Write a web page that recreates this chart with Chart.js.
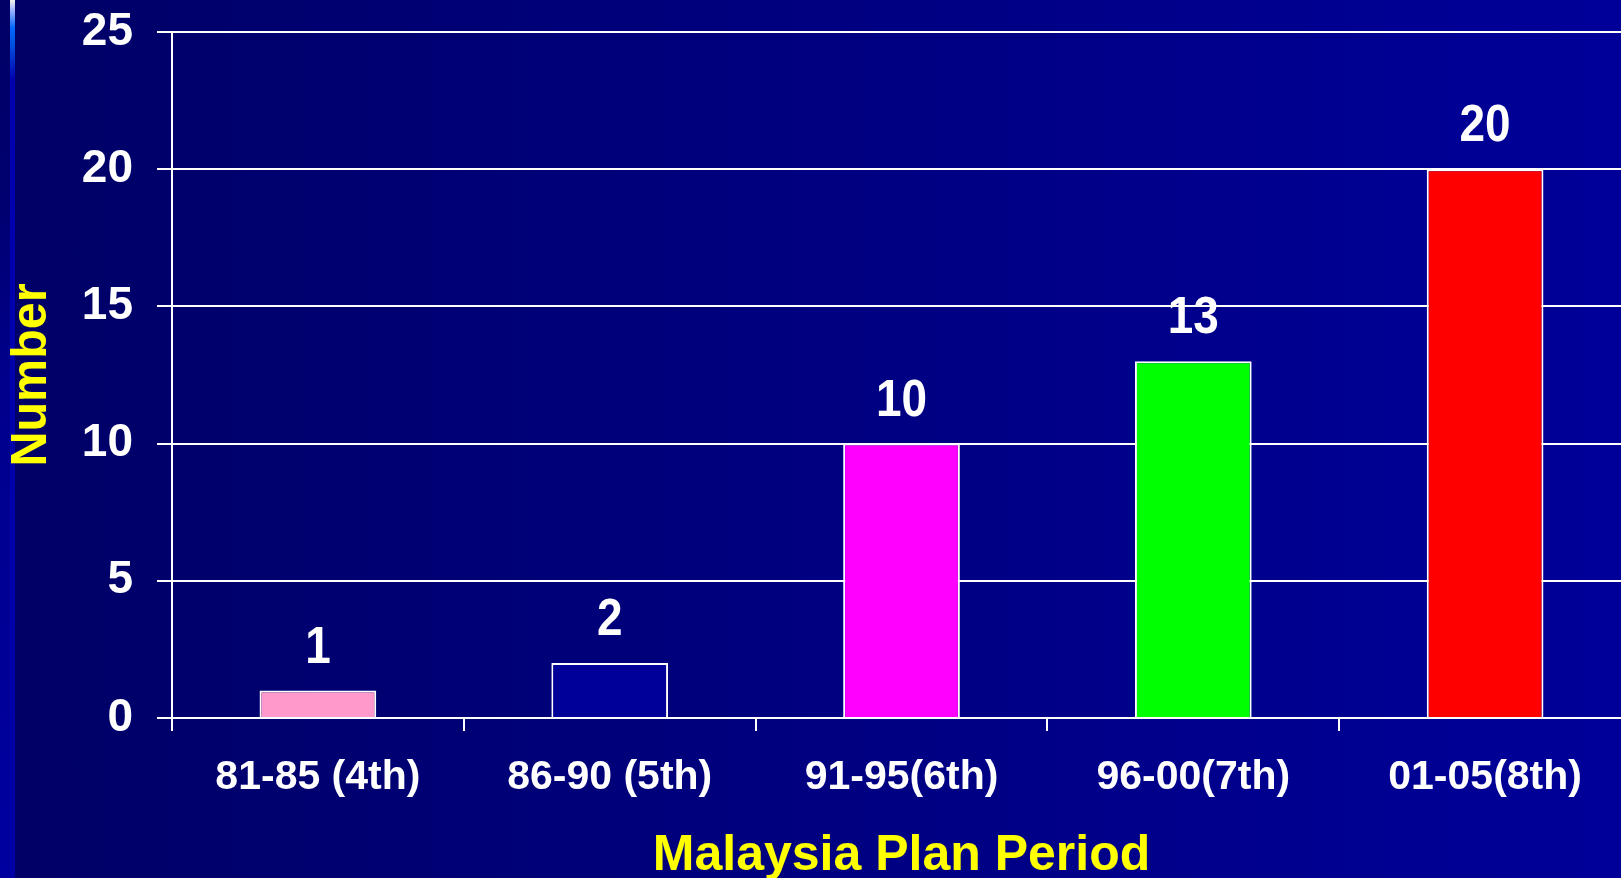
<!DOCTYPE html>
<html>
<head>
<meta charset="utf-8">
<title>Malaysia Plan Period</title>
<script src="https://cdn.jsdelivr.net/npm/chart.js@4.4.1/dist/chart.umd.min.js"></script>
<style>
  html, body { margin: 0; padding: 0; }
  body {
    width: 1621px; height: 878px; overflow: hidden; position: relative;
    background: linear-gradient(to right, #000066 0%, #000080 50%, #000099 100%);
  }
  #edge {
    position: absolute; left: 0; top: 0; width: 10px; height: 878px;
    background: linear-gradient(to bottom, #000066 0px, #000070 200px, #00008c 380px, #0000a0 100%);
  }
  #stripe {
    position: absolute; left: 10px; top: 0; width: 5px; height: 878px;
    background: linear-gradient(to bottom, #f4f4e8 0px, #a0b4ff 10px, #0066ff 28px, #0050e0 45px, #0000b0 80px, #0000a4 100%);
  }
  #chart { position: absolute; left: 0; top: 0; }
</style>
</head>
<body>
<div id="edge"></div>
<div id="stripe"></div>
<canvas id="chart" width="1640" height="878"></canvas>
<script>
// Projects per Malaysia Plan period
const categories = ['81-85 (4th)', '86-90 (5th)', '91-95(6th)', '96-00(7th)', '01-05(8th)'];
const counts = [1, 2, 10, 13, 20];
const barColors = ['#ff99cc', '#000099', '#ff00ff', '#00ff00', '#ff0000'];
const yMin = 0;
const yMax = 25;
const yStep = 5;

const FONT = '"Liberation Sans", Arial, Helvetica, sans-serif';

// value above each bar
const valueLabels = {
  id: 'valueLabels',
  afterDatasetsDraw(chart) {
    const ctx = chart.ctx;
    const meta = chart.getDatasetMeta(0);
    ctx.save();
    ctx.fillStyle = '#ffffff';
    ctx.font = 'bold 51px ' + FONT;
    ctx.textAlign = 'center';
    ctx.textBaseline = 'alphabetic';
    meta.data.forEach((bar, i) => {
      ctx.save();
      ctx.translate(bar.x, bar.y - 28);
      ctx.scale(0.9, 1);
      ctx.fillText(String(counts[i]), 0, 0);
      ctx.restore();
    });
    ctx.restore();
  }
};

// axis titles in yellow
const axisTitles = {
  id: 'axisTitles',
  afterDraw(chart) {
    const ctx = chart.ctx;
    const area = chart.chartArea;
    ctx.save();
    ctx.fillStyle = '#ffff00';
    ctx.textAlign = 'center';

    ctx.save();
    ctx.font = 'bold 50px ' + FONT;
    ctx.textBaseline = 'middle';
    ctx.translate(32, 375);
    ctx.rotate(-Math.PI / 2);
    ctx.scale(0.97, 1);
    ctx.fillText('Number', 0, 0);
    ctx.restore();

    ctx.save();
    ctx.font = 'bold 50px ' + FONT;
    ctx.textBaseline = 'alphabetic';
    ctx.fillText('Malaysia Plan Period', (area.left + area.right) / 2, 870);
    ctx.restore();

    ctx.restore();
  }
};

new Chart(document.getElementById('chart'), {
  type: 'bar',
  data: {
    labels: categories,
    datasets: [{
      data: counts,
      backgroundColor: barColors,
      borderColor: '#ffffff',
      borderWidth: 2,
      barPercentage: 0.4,
      categoryPercentage: 1.0
    }]
  },
  options: {
    responsive: false,
    animation: false,
    layout: { padding: { top: 32, right: 9, bottom: 0, left: 0 } },
    plugins: {
      legend: { display: false },
      tooltip: { enabled: false },
      title: { display: false }
    },
    scales: {
      x: {
        offset: true,
        grid: {
          display: true,
          drawOnChartArea: false,
          drawTicks: true,
          tickLength: 13,
          color: '#ffffff',
          lineWidth: 2
        },
        border: { display: true, color: '#ffffff', width: 2 },
        ticks: {
          color: '#ffffff',
          padding: 22,
          maxRotation: 0,
          autoSkip: false,
          font: { family: FONT, size: 41, weight: 'bold' }
        },
        afterFit(scale) { scale.height = 160; }
      },
      y: {
        min: yMin,
        max: yMax,
        grid: {
          color: '#ffffff',
          lineWidth: 2,
          drawTicks: true,
          tickLength: 15
        },
        border: { display: true, color: '#ffffff', width: 2 },
        ticks: {
          stepSize: yStep,
          color: '#ffffff',
          padding: 24,
          font: { family: FONT, size: 46, weight: 'bold' }
        },
        afterFit(scale) {
          scale.width = 172;
          scale.paddingTop = 0;
        }
      }
    }
  },
  plugins: [valueLabels, axisTitles]
});
</script>
</body>
</html>
